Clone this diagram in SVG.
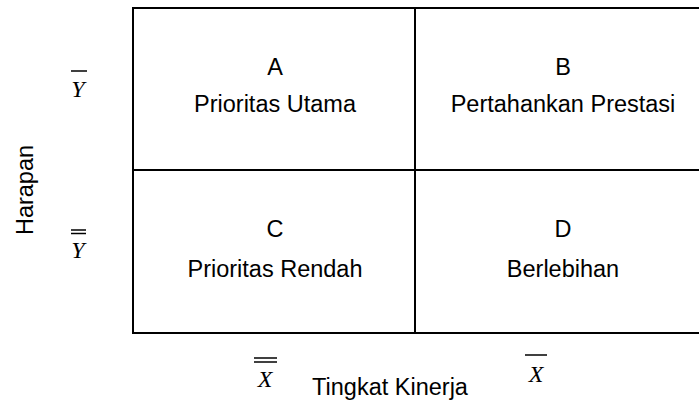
<svg xmlns="http://www.w3.org/2000/svg" width="699" height="406" viewBox="0 0 699 406">
<style>
.t{font-family:"Liberation Sans",Arial,sans-serif;font-size:23.5px;fill:#000;text-anchor:middle}
.m{font-family:"Liberation Serif","Times New Roman",serif;font-size:24px;font-style:italic;fill:#000;text-anchor:middle}
.ln{stroke:#000;stroke-width:2;fill:none}
.bar{stroke:#000;stroke-width:1.5}
</style>
<rect width="699" height="406" fill="#fff"/>
<g id="connectors">
<rect class="ln" x="133" y="8" width="580" height="325"/>
<line class="ln" x1="415" y1="8" x2="415" y2="333"/>
<line class="ln" x1="133" y1="170" x2="713" y2="170"/>
</g>
<g id="A"><text class="t" x="275" y="75">A</text><text class="t" x="275" y="112">Prioritas Utama</text></g>
<g id="B"><text class="t" x="563" y="75">B</text><text class="t" x="563" y="112">Pertahankan Prestasi</text></g>
<g id="C"><text class="t" x="275" y="237">C</text><text class="t" x="275" y="277">Prioritas Rendah</text></g>
<g id="D"><text class="t" x="563" y="237">D</text><text class="t" x="563" y="277">Berlebihan</text></g>
<g id="ybar"><line class="bar" x1="71" y1="71" x2="87" y2="71"/><text class="m" x="78" y="97">Y</text></g>
<g id="ydbar"><line class="bar" x1="71" y1="230" x2="86" y2="230"/><line class="bar" x1="71" y1="233.5" x2="86" y2="233.5"/><text class="m" x="78" y="258">Y</text></g>
<g id="xdbar"><line class="bar" x1="254" y1="358" x2="277" y2="358"/><line class="bar" x1="254" y1="362" x2="277" y2="362"/><text class="m" x="265" y="387">X</text></g>
<g id="xbar"><line class="bar" x1="525" y1="355" x2="547" y2="355"/><text class="m" x="536" y="382">X</text></g>
<g id="xlabel"><text class="t" x="390" y="395">Tingkat Kinerja</text></g>
<g id="ylabel"><text class="t" transform="translate(33,190) rotate(-90)">Harapan</text></g>
</svg>
